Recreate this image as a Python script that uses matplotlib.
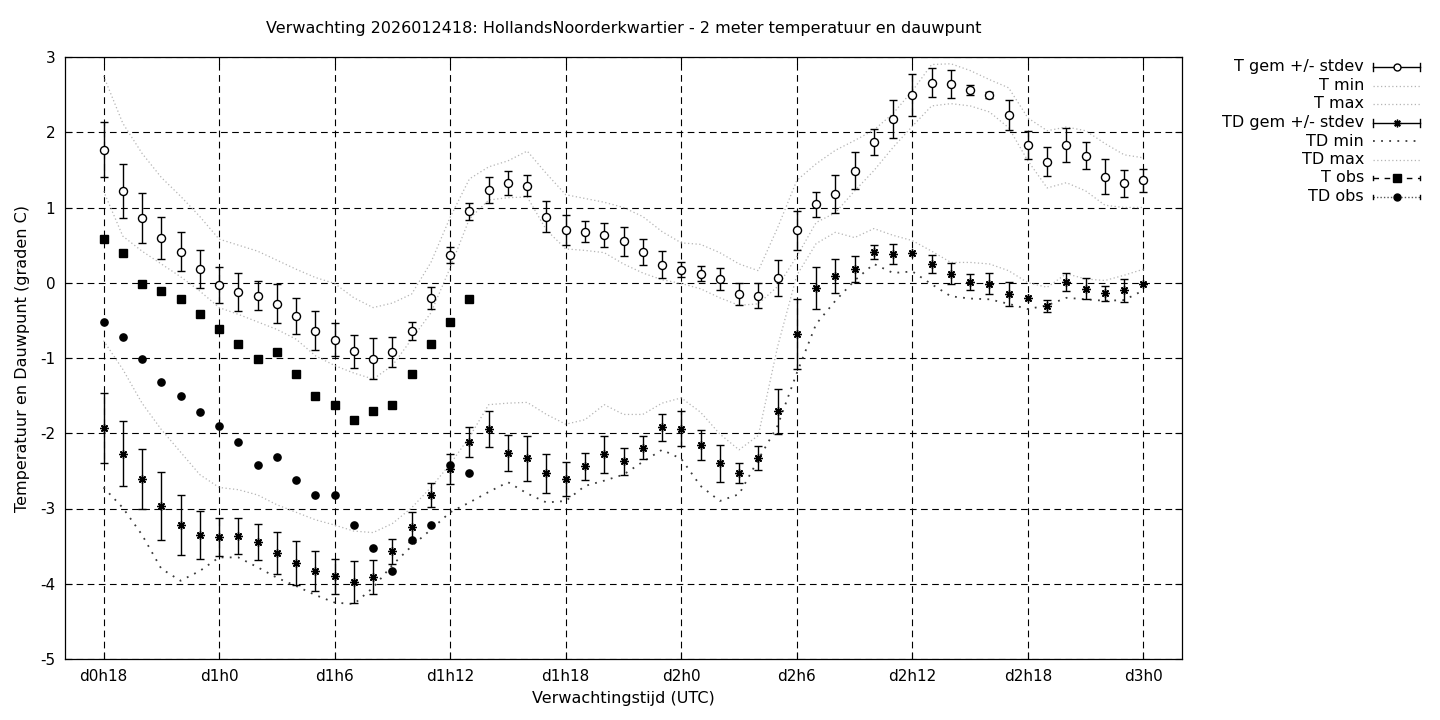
import numpy as np
import matplotlib
matplotlib.use("Agg")
import matplotlib.pyplot as plt

plt.rcParams["font.family"] = "DejaVu Sans"
plt.rcParams["axes.unicode_minus"] = False

# forecast hours, d0h18 .. d3h0
hours = np.arange(18, 73)

t_mean = [1.77, 1.22, 0.86, 0.59, 0.41, 0.18, -0.03, -0.12, -0.17, -0.28,
          -0.44, -0.64, -0.76, -0.91, -1.01, -0.92, -0.64, -0.20, 0.37, 0.95,
          1.23, 1.33, 1.29, 0.88, 0.70, 0.68, 0.64, 0.55, 0.41, 0.24,
          0.17, 0.12, 0.05, -0.15, -0.17, 0.06, 0.70, 1.04, 1.18, 1.49,
          1.87, 2.18, 2.49, 2.66, 2.64, 2.56, 2.49, 2.23, 1.83, 1.61,
          1.83, 1.69, 1.41, 1.32, 1.36]
t_std = [0.36, 0.36, 0.33, 0.28, 0.26, 0.25, 0.24, 0.25, 0.19, 0.26,
         0.24, 0.26, 0.22, 0.22, 0.27, 0.20, 0.12, 0.15, 0.11, 0.11,
         0.17, 0.16, 0.14, 0.20, 0.20, 0.14, 0.16, 0.19, 0.17, 0.18,
         0.10, 0.10, 0.15, 0.15, 0.17, 0.24, 0.26, 0.16, 0.25, 0.25,
         0.17, 0.25, 0.28, 0.19, 0.19, 0.07, 0.04, 0.20, 0.18, 0.19,
         0.22, 0.18, 0.23, 0.18, 0.15]
t_min = [1.22, 0.62, 0.42, 0.25, 0.08, -0.11, -0.33, -0.42, -0.52, -0.62,
         -0.75, -0.97, -1.10, -1.20, -1.28, -1.10, -0.75, -0.40, 0.20, 0.85,
         1.10, 1.13, 1.14, 0.70, 0.45, 0.43, 0.40, 0.25, 0.13, 0.04,
         -0.01, -0.08, -0.20, -0.30, -0.28, -0.05, 0.35, 0.80, 0.93, 1.22,
         1.49, 1.80, 2.08, 2.35, 2.38, 2.35, 2.27, 2.06, 1.62, 1.26,
         1.33, 1.22, 1.03, 1.00, 1.00]
t_max = [2.75, 2.12, 1.72, 1.40, 1.15, 0.88, 0.58, 0.50, 0.42, 0.30,
         0.18, 0.07, -0.01, -0.20, -0.33, -0.27, -0.15, 0.27, 0.87, 1.38,
         1.54, 1.62, 1.75, 1.45, 1.17, 1.12, 1.07, 1.00, 0.88, 0.68,
         0.53, 0.51, 0.40, 0.25, 0.16, 0.73, 1.36, 1.58, 1.76, 1.89,
         2.03, 2.25, 2.55, 2.90, 2.91, 2.82, 2.70, 2.59, 2.19, 2.02,
         2.07, 2.02, 1.85, 1.70, 1.66]

td_mean = [-1.93, -2.27, -2.61, -2.97, -3.22, -3.35, -3.38, -3.37, -3.44, -3.59,
           -3.72, -3.83, -3.90, -3.98, -3.91, -3.57, -3.25, -2.82, -2.47, -2.12,
           -1.94, -2.26, -2.33, -2.53, -2.61, -2.44, -2.28, -2.37, -2.19, -1.92,
           -1.94, -2.16, -2.40, -2.53, -2.33, -1.71, -0.68, -0.07, 0.09, 0.18,
           0.41, 0.38, 0.39, 0.25, 0.12, 0.01, -0.01, -0.15, -0.20, -0.31,
           0.01, -0.08, -0.14, -0.10, -0.02]
td_std = [0.47, 0.43, 0.40, 0.45, 0.40, 0.32, 0.25, 0.24, 0.24, 0.28,
          0.29, 0.27, 0.23, 0.28, 0.22, 0.17, 0.20, 0.16, 0.20, 0.20,
          0.24, 0.24, 0.30, 0.26, 0.23, 0.18, 0.25, 0.18, 0.15, 0.18,
          0.23, 0.20, 0.25, 0.13, 0.16, 0.30, 0.46, 0.28, 0.22, 0.17,
          0.09, 0.13, 0.00, 0.12, 0.14, 0.10, 0.14, 0.16, 0.00, 0.08,
          0.12, 0.14, 0.10, 0.15, 0.00]
td_min = [-2.72, -2.99, -3.35, -3.80, -3.96, -3.83, -3.65, -3.65, -3.78, -3.92,
          -4.03, -4.15, -4.25, -4.27, -4.05, -3.75, -3.50, -3.28, -3.05, -2.92,
          -2.78, -2.65, -2.80, -2.92, -2.90, -2.70, -2.63, -2.55, -2.38, -2.22,
          -2.34, -2.70, -2.90, -2.81, -2.35, -1.90, -1.20, -0.55, -0.24, 0.03,
          0.25, 0.13, 0.15, -0.02, -0.18, -0.21, -0.22, -0.28, -0.35, -0.30,
          -0.20, -0.22, -0.24, -0.23, -0.10]
td_max = [-0.77, -1.15, -1.60, -1.95, -2.25, -2.55, -2.72, -2.75, -2.82, -2.95,
          -3.05, -3.15, -3.22, -3.30, -3.32, -3.20, -2.99, -2.72, -2.41, -2.05,
          -1.62, -1.60, -1.59, -1.75, -1.88, -1.82, -1.62, -1.75, -1.75, -1.60,
          -1.53, -1.72, -2.01, -2.22, -2.03, -0.85, 0.10, 0.52, 0.67, 0.60,
          0.72, 0.63, 0.56, 0.42, 0.27, 0.27, 0.25, 0.16, 0.00, -0.06,
          0.12, 0.05, 0.03, 0.10, 0.18]

# observations d0h18 .. d1h13
obs_hours = np.arange(18, 38)
t_obs = [0.58, 0.39, -0.02, -0.11, -0.22, -0.42, -0.61, -0.81, -1.01, -0.92,
         -1.21, -1.51, -1.63, -1.82, -1.71, -1.63, -1.21, -0.81, -0.52, -0.21]
td_obs = [-0.52, -0.72, -1.01, -1.32, -1.51, -1.72, -1.91, -2.12, -2.42, -2.31,
          -2.62, -2.82, -2.82, -3.22, -3.52, -3.83, -3.42, -3.22, -2.42, -2.53]

tick_hours = np.arange(18, 73, 6)
tick_labels = ["d%dh%d" % (h // 24, h % 24) for h in tick_hours]

title = "Verwachting 2026012418: HollandsNoorderkwartier - 2 meter temperatuur en dauwpunt"

W, H = 1440, 720
fig = plt.figure(figsize=(W / 100, H / 100), dpi=100)
ax = fig.add_axes([65 / W, 1 - 659 / H, (1182 - 65) / W, (659 - 57) / H])

light = "#b4b4b4"
dark = "#3c3c3c"
dense = (0, (1, 2))
sparse = (0, (1, 3.5))
asterisk = (8, 2, 0)

def masked(std):
    std = np.asarray(std, dtype=float)
    return np.where(std > 0, std, np.nan)

ax.plot(hours, t_min, color=light, lw=0.9, ls=dense, zorder=2)
ax.plot(hours, t_max, color=light, lw=0.9, ls=dense, zorder=2)
ax.plot(hours, td_min, color=dark, lw=1.3, ls=sparse, zorder=2)
ax.plot(hours, td_max, color=light, lw=0.9, ls=dense, zorder=2)

ax.errorbar(hours, t_mean, yerr=masked(t_std), fmt="o", ms=5.8, mfc="white",
            mec="black", mew=1, ecolor="black", elinewidth=1, capsize=3,
            capthick=1, zorder=5)
ax.errorbar(hours, td_mean, yerr=masked(td_std), fmt="none", ecolor="black",
            elinewidth=1, capsize=3, capthick=1, zorder=5)
ax.plot(hours, td_mean, ls="none", marker=asterisk, ms=6, mec="black",
        mew=1, zorder=6)
ax.plot(obs_hours, t_obs, ls="none", marker="s", ms=5.5, color="black", zorder=5)
ax.plot(obs_hours, td_obs, ls="none", marker="o", ms=5.2, color="black", zorder=5)

ax.set_xlim(16, 74)
ax.set_ylim(-5, 3)
ax.set_xticks(tick_hours)
ax.set_xticklabels(tick_labels)
ax.set_yticks(np.arange(-5, 4))
ax.grid(True, color="black", lw=0.8, ls=(0, (6, 4)))
ax.set_axisbelow(True)
ax.tick_params(direction="in", top=True, right=True, length=5, width=0.8,
               labelsize=11, pad=7)
for s in ax.spines.values():
    s.set_linewidth(0.9)
ax.set_xlabel("Verwachtingstijd (UTC)", fontsize=11.5, labelpad=5)
ax.set_ylabel("Temperatuur en Dauwpunt (graden C)", fontsize=11.5, labelpad=7)
fig.text(623.5 / W, 1 - 29 / H, title, ha="center", va="center", fontsize=11.5)

# legend, gnuplot style: label right-aligned, sample to its right
leg = fig.add_axes([0, 0, 1, 1], facecolor="none")
leg.set_xlim(0, W)
leg.set_ylim(H, 0)
leg.axis("off")
entries = [
    ("T gem +/- stdev", dict(color="black", lw=1, ls="-"), dict(marker="o", mfc="white", mec="black", ms=5), 1.0),
    ("T min", dict(color=light, lw=0.9, ls=dense), None, 0),
    ("T max", dict(color=light, lw=0.9, ls=dense), None, 0),
    ("TD gem +/- stdev", dict(color="black", lw=1, ls="-"), dict(marker=asterisk, mec="black", ms=5.5), 1.0),
    ("TD min", dict(color=dark, lw=1.3, ls=sparse), None, 0),
    ("TD max", dict(color=light, lw=0.9, ls=dense), None, 0),
    ("T obs", dict(color="black", lw=1, ls=(0, (4, 4))), dict(marker="s", color="black", ms=5.5), 0.5),
    ("TD obs", dict(color="#555555", lw=1, ls=(0, (1, 1.5))), dict(marker="o", color="black", ms=5), 0.5),
]
x0, x1 = 1373, 1420
for i, (label, line_kw, mark_kw, cap) in enumerate(entries):
    y = 67 + 18.5 * i
    leg.text(1364, y, label, ha="right", va="center", fontsize=11.5)
    leg.plot([x0, x1], [y, y], **line_kw)
    if mark_kw:
        leg.plot([(x0 + x1) / 2], [y], ls="none", mew=1, **mark_kw)
    if cap:
        for xc in (x0, x1):
            leg.plot([xc, xc], [y - 4 * cap, y + 4 * cap], color="black", lw=1)

fig.savefig("out.png", dpi=100)
